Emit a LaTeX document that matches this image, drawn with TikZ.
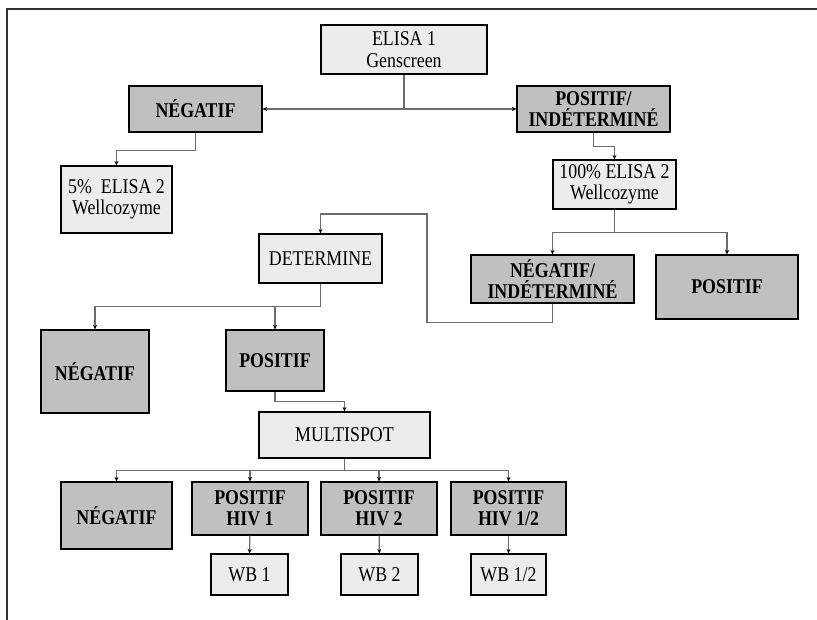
\documentclass[tikz,border=0pt]{standalone}
\usepackage{fontspec}
\setmainfont{Liberation Serif}[FakeStretch=0.85]
\usetikzlibrary{positioning,arrows.meta,calc}

\begin{document}
\begin{tikzpicture}[x=1pt, y=-1pt,
	darkbox/.style={shape=rectangle, draw, line width=1.2pt, fill=darkfill, align=center, font=\fontsize{21}{21}\selectfont\bfseries, inner sep=1pt},
	lightbox/.style={shape=rectangle, draw, line width=1.2pt, fill=lightfill, align=center, font=\fontsize{21}{21.5}\selectfont, inner sep=1pt},
	conn/.style={draw=gray!85!black, line width=1.3pt, -{Stealth[length=4.5pt,width=4pt,black]}}]
	\definecolor{darkfill}{HTML}{C0C0C0}
	\definecolor{lightfill}{HTML}{ECECEC}
	\useasboundingbox (0,0) rectangle (817,620);
	\fill[white] (0,0) rectangle (817,620);
	% frame
	\draw[line width=1.6pt, gray!40!black] (7,620) -- (7,9) -- (817,9);

	\node (elisa) at (404,49.5) [lightbox, minimum width=166pt, minimum height=49pt] {ELISA 1\\Genscreen};
	\node (neg) at (195.5,109) [darkbox, minimum width=133pt, minimum height=46pt] {NÉGATIF};
	\node (posind) at (593.5,109) [darkbox, minimum width=153pt, minimum height=46pt] {POSITIF/\\INDÉTERMINÉ};
	\node (elisaA) at (116.5,199.5) [lightbox, minimum width=111pt, minimum height=67pt] {5\%~~ELISA 2\\Wellcozyme};
	\node (elisaB) at (614.5,184.5) [lightbox, minimum width=123pt, minimum height=49pt] {100\% ELISA 2\\Wellcozyme};
	\node (negind) at (552.5,279) [darkbox, minimum width=163pt, minimum height=48pt] {NÉGATIF/\\INDÉTERMINÉ};
	\node (posB) at (727,287) [darkbox, minimum width=142pt, minimum height=64pt] {POSITIF};
	\node (determine) at (320.5,258.5) [lightbox, minimum width=123pt, minimum height=49pt] {DETERMINE};
	\node (negC) at (95,371.5) [darkbox, minimum width=108pt, minimum height=83pt] {NÉGATIF};
	\node (posC) at (275,360.5) [darkbox, minimum width=98pt, minimum height=61pt] {POSITIF};
	\node (multispot) at (344.5,435) [lightbox, minimum width=171pt, minimum height=46pt] {MULTISPOT};
	\node (negD) at (116.5,515.5) [darkbox, minimum width=111pt, minimum height=67pt] {NÉGATIF};
	\node (hivA) at (250,508.5) [darkbox, minimum width=116pt, minimum height=53pt] {POSITIF\\HIV 1};
	\node (hivB) at (379,508.5) [darkbox, minimum width=116pt, minimum height=53pt] {POSITIF\\HIV 2};
	\node (hivC) at (508.5,508.5) [darkbox, minimum width=115pt, minimum height=53pt] {POSITIF\\HIV 1/2};
	\node (wbA) at (249.5,574.5) [lightbox, minimum width=77pt, minimum height=41pt] {WB 1};
	\node (wbB) at (379.5,574.5) [lightbox, minimum width=77pt, minimum height=41pt] {WB 2};
	\node (wbC) at (508.5,574.5) [lightbox, minimum width=75pt, minimum height=41pt] {WB 1/2};
	\coordinate (back) at (427,214);

	\draw[conn] (elisa.south) |- (neg.east);
	\draw[conn] (elisa.south) |- (posind.west);
	\draw[conn] (neg.south) -- ++(0,18) -| (elisaA.north);
	\draw[conn] (posind.south) -- ++(0,14) -| (elisaB.north);
	\draw[conn] (elisaB.south) -- ++(0,23) -| (negind.north);
	\draw[conn] (elisaB.south) -- ++(0,23) -| (posB.north);
	\draw[conn] (negind.south) -- ++(0,19) -| (back) -| (determine.north);
	\draw[conn] (determine.south) -- ++(0,23) -| (negC.north);
	\draw[conn] (determine.south) -- ++(0,23) -| (posC.north);
	\draw[conn] (posC.south) -- ++(0,10) -| (multispot.north);
	\foreach \n in {negD,hivA,hivB,hivC}
		\draw[conn] (multispot.south) -- ++(0,12) -| (\n.north);
	\draw[conn] (hivA) -- (wbA);
	\draw[conn] (hivB) -- (wbB);
	\draw[conn] (hivC) -- (wbC);
\end{tikzpicture}
\end{document}
